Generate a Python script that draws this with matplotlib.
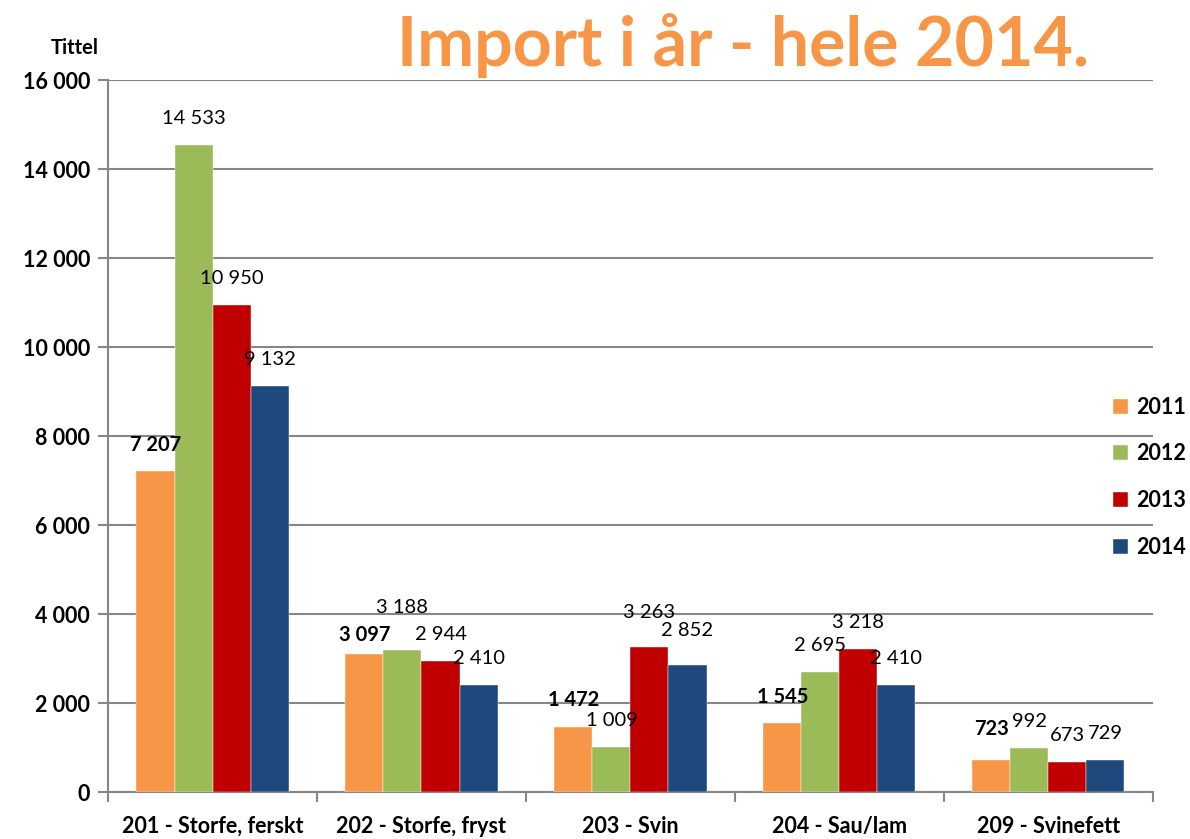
import matplotlib.pyplot as plt
from matplotlib.ticker import FuncFormatter
import numpy as np

# data
categories = ['201 - Storfe, ferskt', '202 - Storfe, fryst', '203 - Svin',
              '204 - Sau/lam', '209 - Svinefett']
years = ['2011', '2012', '2013', '2014']
v2011 = [7207, 3097, 1472, 1545, 723]
v2012 = [14533, 3188, 1009, 2695, 992]
v2013 = [10950, 2944, 3263, 3218, 673]
v2014 = [9132, 2410, 2852, 2410, 729]

colors = ['#F79646', '#9BBB59', '#C00000', '#1F497D']
# extra label lift (points) where Excel moved labels to avoid overlaps
lift = {(1, 1): 12, (0, 1): -5, (2, 2): 6, (3, 2): 6, (0, 4): 3}

plt.rcParams['font.family'] = ['Lato', 'DejaVu Sans']
plt.rcParams['font.weight'] = 'bold'

fig = plt.figure(figsize=(11.9, 8.39), dpi=100)
ax = fig.add_axes([0.0908, 0.056, 0.878, 0.8486])

x = np.arange(len(categories))
w = 0.182
series = [v2011, v2012, v2013, v2014]
for i, vals in enumerate(series):
    xs = x + (i - 1.5) * w
    ax.bar(xs, vals, width=w, color=colors[i], label=years[i], zorder=3,
           edgecolor='white', linewidth=0.3)
    for j, v in enumerate(vals):
        txt = f'{v:,}'.replace(',', ' ')
        dy = 19 + lift.get((i, j), 0)
        ax.annotate(txt, (xs[j], v), xytext=(0, dy), textcoords='offset points',
                    ha='center', va='center', fontsize=14.5,
                    fontweight='bold' if i == 0 else 'normal', zorder=4)

ax.set_ylim(0, 16000)
ax.set_xlim(-0.5, len(categories) - 0.5)
ax.set_yticks(np.arange(0, 16001, 2000))
ax.yaxis.set_major_formatter(FuncFormatter(lambda v, p: f'{int(v):,}'.replace(',', ' ')))
ax.yaxis.grid(True, color='#868686', linewidth=1.5, zorder=0)

ax.set_xticks(x)
ax.set_xticklabels(categories, fontsize=15.5, fontweight='bold')
ax.set_xticks(np.arange(-0.5, len(categories), 1), minor=True)
ax.tick_params(axis='x', which='major', length=0, pad=17)
ax.tick_params(axis='x', which='minor', length=7, width=1.5, color='#868686')
ax.tick_params(axis='y', length=7, width=1.5, color='#868686', pad=6, labelsize=15.5)

for s in ['top', 'right']:
    ax.spines[s].set_visible(False)
for s in ['left', 'bottom']:
    ax.spines[s].set_color('#868686')
    ax.spines[s].set_linewidth(1.5)

fig.text(0.063, 0.943, 'Tittel', fontsize=14.5, fontweight='bold', ha='center', va='center')
fig.text(0.624, 0.946, 'Import i år - hele 2014.', fontsize=49, fontweight='bold',
         color='#F79646', ha='center', va='center')

ax.legend(loc='center left', bbox_to_anchor=(0.935, 0.431), bbox_transform=fig.transFigure,
          frameon=False, borderpad=0, borderaxespad=0, handlelength=0.7, handleheight=0.7,
          handletextpad=0.4, labelspacing=1.2, prop={'size': 15.5, 'weight': 'bold'})

fig.savefig('out.png', dpi=100)
